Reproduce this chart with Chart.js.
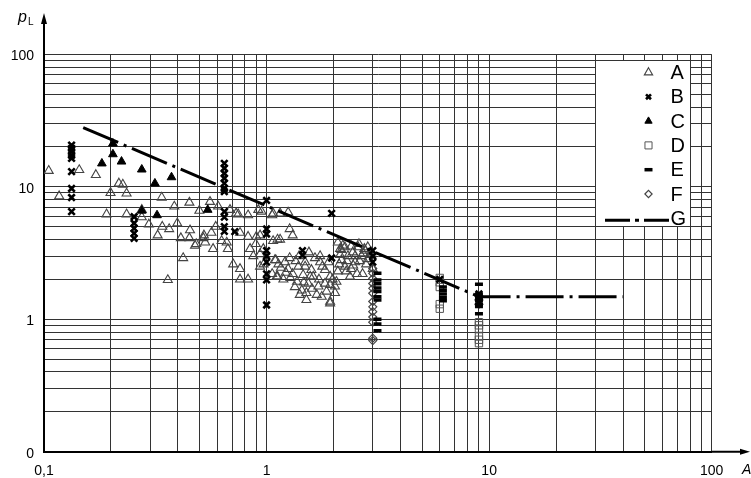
<!DOCTYPE html>
<html><head><meta charset="utf-8">
<script src="https://cdn.jsdelivr.net/npm/chart.js@4/dist/chart.umd.min.js"></script>
<style>html,body{margin:0;padding:0;background:#fff;} canvas{display:block;}</style>
</head><body>
<canvas id="c" width="751" height="478"></canvas>
<script>
// ---- tick labels ----
const xTickValues = [0.1, 1, 10, 100];
const xTickLabels = ['0,1', '1', '10', '100'];
const yTickValues = [0.1, 1, 10, 100];
const yTickLabels = ['0', '1', '10', '100'];
const seriesNames = ['A', 'B', 'C', 'D', 'E', 'F', 'G'];

// ---- series values [A, pL] ----
const seriesA = [
  [0.105,13.2],[0.117,8.5],[0.144,13.4],[0.171,12.3],[0.191,6.2],[0.199,9.0],[0.217,10.6],[0.226,10.4],
  [0.235,8.9],[0.235,6.2],[0.275,6.7],[0.275,5.9],[0.296,5.2],[0.338,8.3],[0.324,4.3],[0.340,5.0],
  [0.365,4.8],[0.385,7.1],[0.397,5.3],[0.412,4.1],[0.422,2.9],[0.450,7.6],[0.453,4.7],[0.450,4.1],
  [0.477,3.6],[0.499,6.6],[0.523,4.3],[0.557,7.7],[0.575,3.4],[0.591,5.0],[0.606,7.1],[0.628,3.9],
  [0.662,3.8],[0.685,6.7],[0.708,2.6],[0.746,6.2],[0.760,2.4],[0.760,4.5],[0.826,6.1],[0.843,3.4],
  [0.872,3.0],[0.918,6.7],[0.894,3.7],[0.935,2.5],[0.935,4.3],[0.967,3.4],[1.06,6.1],[1.09,2.8],
  [1.12,4.0],[1.12,2.1],[0.826,2.0],[0.760,2.0],[0.36,1.98],[0.483,3.7],[0.52,4.1],[0.53,3.8],
  [0.565,4.5],[0.67,3.4],[0.826,4.2],[0.90,4.2],[0.935,3.1],[0.97,2.6],[0.73,6.3],
  [1.27,4.8],[1.31,4.3],[1.15,4.0],[1.07,3.9],[1.10,2.8],[1.06,2.2],[1.11,2.1],[1.21,2.7],
  [1.25,2.4],[1.19,2.0],[1.31,2.2],[1.39,2.5],[1.37,1.92],[1.44,1.65],[1.41,1.53],[1.54,1.86],
  [1.51,1.58],[1.59,2.36],[1.62,2.1],[1.74,3.0],[1.68,1.53],[1.77,1.48],[1.83,2.36],[1.93,2.1],
  [1.83,1.86],[1.93,1.82],[2.09,2.3],[2.03,1.58],[1.93,1.36],[2.14,3.4],[2.17,2.8],[2.25,2.5],
  [2.32,3.0],[2.37,2.1],[2.44,3.2],[2.50,2.7],[2.58,3.5],[2.67,3.0],[2.77,3.3],[2.80,2.6],
  [2.92,3.06],[3.0,2.4],[2.4,2.4],[2.55,2.2],[2.7,2.2],[2.25,3.5],[1.71,1.77],[1.46,2.16],
  [1.27,2.9],[1.49,2.7],[1.74,2.7],[1.93,1.32],[2.03,1.77],[2.14,3.06],[1.07,6.3],[1.15,6.3],
  [1.25,6.4],[0.95,6.5],[2.09,3.8],[2.17,3.34],[2.2,3.6],[2.4,3.55],[2.6,3.7],[2.75,3.4],
  [2.85,3.5],[2.95,3.2],[1.55,3.2],[1.65,2.9],[1.4,3.0],[1.51,1.40],[1.49,2.5],[1.57,2.1],
  [1.16,2.45],[1.22,2.25],[1.34,1.75],[1.47,1.9],[1.60,1.7],[1.72,2.0],[1.86,1.62],[1.98,2.0],
  [2.06,1.92],[2.12,2.6],[2.28,2.3],[2.45,2.55],[2.62,2.75],[2.85,2.85],[2.72,3.15],[2.5,3.0],
  [1.35,2.75],[1.78,2.5],[1.9,2.7],[2.3,2.75],[1.13,2.6],[1.28,2.05]
];
const seriesB = [
  [0.133,20.6],[0.133,19.5],[0.133,18.4],[0.133,17.3],[0.133,16.4],[0.133,13.0],[0.133,9.7],[0.133,8.3],[0.133,6.5],
  [0.254,5.94],[0.254,5.30],[0.254,4.85],[0.254,4.45],[0.254,4.08],
  [0.646,15.0],[0.646,13.8],[0.646,12.6],[0.646,11.6],[0.646,10.6],[0.646,9.7],[0.646,9.2],[0.646,6.5],[0.646,5.9],[0.646,5.0],[0.646,4.6],
  [0.72,4.58],
  [1.0,7.9],[1.0,4.8],[1.0,4.4],[1.0,3.3],[1.0,3.0],[1.0,2.7],[1.0,2.2],[1.0,1.98],[1.0,1.28],
  [1.45,3.3],[1.45,3.05],[1.96,6.3],[1.96,2.9],
  [3.0,3.3],[3.0,3.0],[3.0,2.7],[6.0,2.0],[9.0,1.55],[9.0,1.35]
];
const seriesC = [
  [0.204,21.2],[0.204,17.6],[0.182,15.0],[0.223,15.5],[0.275,13.5],[0.315,10.6],[0.374,11.8],[0.275,6.6],[0.322,6.1],[0.544,6.7]
];
const seriesD = [
  [6.0,2.05],[6.0,1.9],[6.0,1.75],[6.0,1.3],[6.0,1.2],
  [9.0,0.95],[9.0,0.9],[9.0,0.85],[9.0,0.74],[9.0,0.7],[9.0,0.66]
];
const seriesE = [
  [3.15,2.22],[3.15,1.98],[3.15,1.85],[3.15,1.72],[3.15,1.62],[3.15,1.48],[3.15,1.4],[3.15,1.0],[3.15,0.92],[3.15,0.82],
  [6.2,1.75],[6.2,1.65],[6.2,1.55],[6.2,1.45],[6.2,1.38],
  [9.0,1.84],[9.0,1.55],[9.0,1.45],[9.0,1.38],[9.0,1.3],[9.0,1.25],[9.0,1.1]
];
const seriesF = [
  [3.0,2.42],[3.0,2.22],[3.0,2.03],[3.0,1.86],[3.0,1.71],[3.0,1.57],[3.0,1.36],[3.0,1.24],[3.0,1.14],[3.0,1.04],[3.0,0.95],[3.0,0.72],[3.0,0.69],
  [9.0,1.5],[9.0,1.4],[9.0,1.3]
];
const seriesG = [[0.15,28],[9.0,1.48],[40,1.48]];

// ---- helpers ----
const toPts = arr => arr.map(p => ({x: p[0], y: p[1]}));
function gridValues(min, max) {
  const out = [];
  for (let e = Math.round(Math.log10(min)); e < Math.round(Math.log10(max)); e++) {
    for (let m = 1; m <= 9; m++) out.push(m * Math.pow(10, e));
  }
  out.push(max);
  return out.map(v => parseFloat(v.toPrecision(6)));
}
function labelFor(v, vals, labs) {
  const i = vals.findIndex(t => Math.abs(Math.log10(t) - Math.log10(v)) < 1e-6);
  return i >= 0 ? labs[i] : '';
}
const GRID = '#333';
const FONT = "'Liberation Sans', Arial, Helvetica, sans-serif";
Chart.defaults.font.family = FONT;
Chart.defaults.color = '#000';

const styles = {
  A: {pointStyle:'triangle', pointRadius:5.2, pointBorderWidth:1.1, pointBorderColor:'#444', pointBackgroundColor:'rgba(0,0,0,0)'},
  B: {pointStyle:'crossRot', pointRadius:4.6, pointBorderWidth:2.6, pointBorderColor:'#000', pointBackgroundColor:'#000'},
  C: {pointStyle:'triangle', pointRadius:5, pointBorderWidth:1, pointBorderColor:'#000', pointBackgroundColor:'#000'},
  D: {pointStyle:'rect', pointRadius:5.2, pointBorderWidth:1, pointBorderColor:'#555', pointBackgroundColor:'rgba(0,0,0,0)'},
  E: {pointStyle:'line', pointRadius:4, pointBorderWidth:3.5, pointBorderColor:'#000', pointBackgroundColor:'#000'},
  F: {pointStyle:'rectRot', pointRadius:4, pointBorderWidth:1.2, pointBorderColor:'#444', pointBackgroundColor:'rgba(0,0,0,0)'}
};
const seriesData = {A: seriesA, B: seriesB, C: seriesC, D: seriesD, E: seriesE, F: seriesF};
const orderMap = {A:5, D:4, F:3, C:2, B:1, E:1};
const datasets = ['A','B','C','D','E','F'].map(k => Object.assign({
  label: k, data: toPts(seriesData[k]), showLine: false, order: orderMap[k]
}, styles[k]));
datasets.push({
  label: 'G', data: toPts(seriesG), showLine: true, borderColor: '#000', borderWidth: 3,
  borderDash: [38, 6, 3, 6], pointRadius: 0, fill: false, order: 0, tension: 0
});

const decor = {
  id: 'decor',
  afterDraw(chart) {
    const c = chart.ctx, a = chart.chartArea, xs = chart.scales.x, ys = chart.scales.y;
    c.save();
    // axis extensions with arrows
    c.strokeStyle = '#000'; c.fillStyle = '#000'; c.lineWidth = 2;
    c.beginPath(); c.moveTo(a.left, a.top); c.lineTo(a.left, 20); c.stroke();
    c.beginPath(); c.moveTo(a.left, 13); c.lineTo(a.left - 3, 24); c.lineTo(a.left + 3, 24); c.closePath(); c.fill();
    c.beginPath(); c.moveTo(a.right, a.bottom); c.lineTo(744, a.bottom); c.stroke();
    c.beginPath(); c.moveTo(750, a.bottom); c.lineTo(740, a.bottom - 3); c.lineTo(740, a.bottom + 3); c.closePath(); c.fill();
    // axis titles
    c.textBaseline = 'alphabetic'; c.textAlign = 'left';
    c.font = 'italic 16px ' + FONT; c.fillText('p', 18, 22);
    c.font = '10px ' + FONT; c.fillText('L', 28, 25);
    c.font = 'italic 14px ' + FONT; c.fillText('A', 742, 474);
    // legend box
    const lx0 = xs.getPixelForValue(30), lx1 = xs.getPixelForValue(80);
    const ly0 = ys.getPixelForValue(90), ly1 = ys.getPixelForValue(5);
    c.fillStyle = '#fff';
    c.fillRect(lx0, ly0, lx1 - lx0, ly1 - ly0);
    c.strokeStyle = GRID; c.lineWidth = 1;
    c.strokeRect(Math.round(lx0) + 0.5, Math.round(ly0) + 0.5, Math.round(lx1 - lx0), Math.round(ly1 - ly0));
    const symX = 648.5, textX = 670.5, y0 = 72.5, dy = 24.3;
    c.font = '20px ' + FONT; c.textBaseline = 'middle';
    seriesNames.forEach((name, i) => {
      const y = y0 + i * dy;
      if (name === 'G') {
        c.strokeStyle = '#000'; c.lineWidth = 3; c.setLineDash([25, 5, 4, 5]);
        c.beginPath(); c.moveTo(605, y + 2); c.lineTo(669, y + 2); c.stroke();
        c.setLineDash([]);
      } else {
        const s = styles[name];
        c.strokeStyle = s.pointBorderColor; c.fillStyle = s.pointBackgroundColor; c.lineWidth = s.pointBorderWidth;
        const r = name === 'B' ? 3.5 : (name === 'A' ? 4.8 : (name === 'C' ? 4.2 : (name === 'D' ? 5 : (name === 'F' ? 3.6 : 4))));
        Chart.helpers.drawPoint(c, {pointStyle: s.pointStyle, radius: r, borderWidth: s.pointBorderWidth, rotation: 0}, symX, y);
      }
      c.fillStyle = '#000';
      c.fillText(name, textX, y + 1);
    });
    c.restore();
  }
};

new Chart(document.getElementById('c').getContext('2d'), {
  type: 'scatter',
  data: {datasets},
  options: {
    responsive: false, animation: false, devicePixelRatio: 1,
    layout: {padding: {left: 0, right: 39.3, top: 54.3, bottom: 0}},
    plugins: {legend: {display: false}, tooltip: {enabled: false}},
    scales: {
      x: {
        type: 'logarithmic', min: 0.1, max: 100,
        afterBuildTicks: s => { s.ticks = gridValues(0.1, 100).map(v => ({value: v})); },
        afterFit: s => { s.height = 26.3; },
        grid: {color: GRID, lineWidth: 1, drawTicks: false},
        border: {display: true, color: '#000', width: 2},
        ticks: {autoSkip: false, maxRotation: 0, padding: 11, font: {size: 14}, color: '#000',
          callback: v => labelFor(v, xTickValues, xTickLabels)}
      },
      y: {
        type: 'logarithmic', min: 0.1, max: 100,
        afterBuildTicks: s => { s.ticks = gridValues(0.1, 100).map(v => ({value: v})); },
        afterFit: s => { s.width = 44; },
        grid: {color: GRID, lineWidth: 1, drawTicks: false},
        border: {display: true, color: '#000', width: 2},
        ticks: {autoSkip: false, padding: 10, font: {size: 14}, color: '#000', labelOffset: 2,
          callback: v => labelFor(v, yTickValues, yTickLabels)}
      }
    }
  },
  plugins: [decor]
});
</script>
</body></html>
